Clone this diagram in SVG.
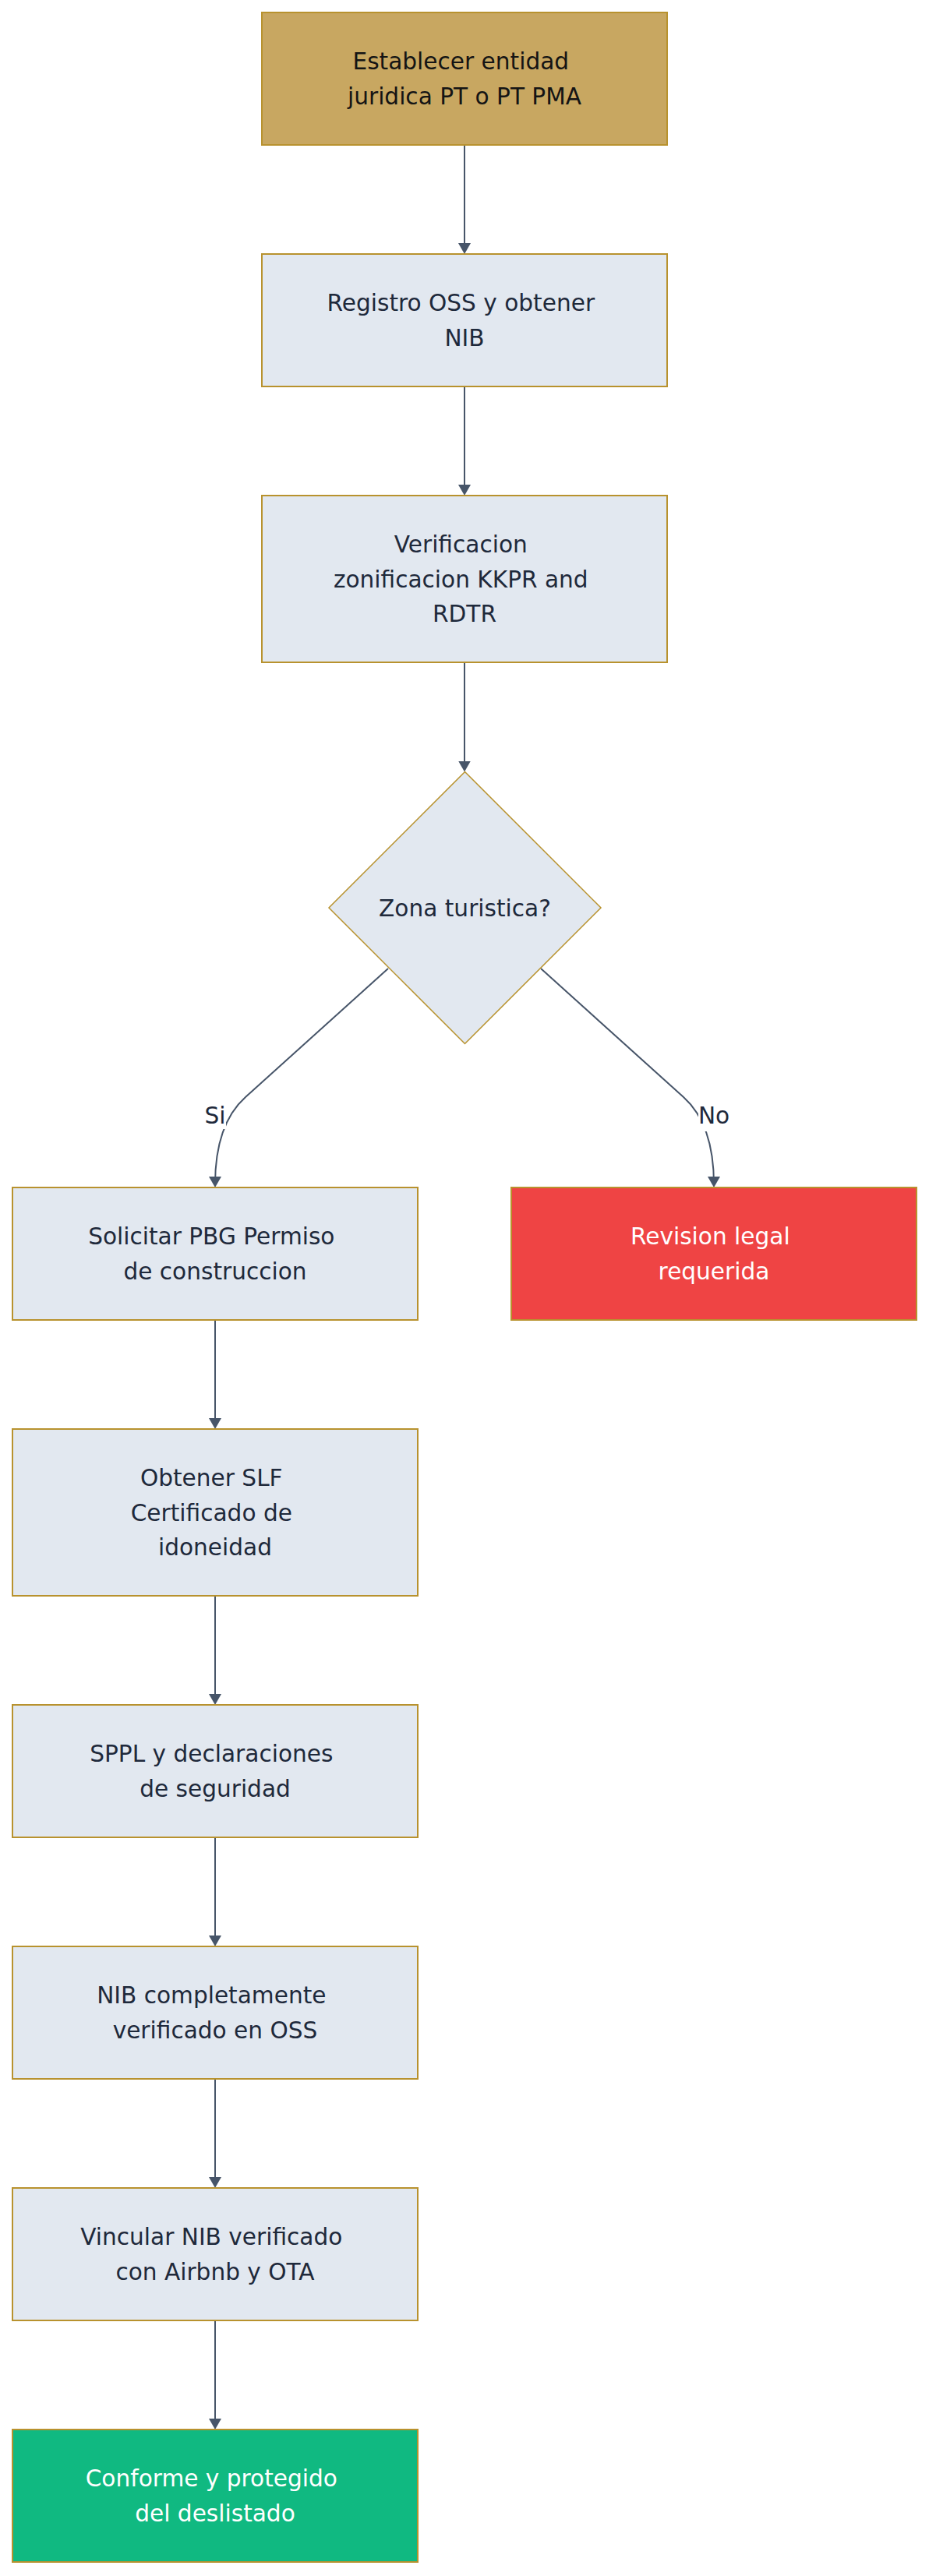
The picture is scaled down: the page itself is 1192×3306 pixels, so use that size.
<svg xmlns="http://www.w3.org/2000/svg" width="1192" height="3306" viewBox="0 0 1192 3306">
<style>
  text { font-family: "DejaVu Sans", "Liberation Sans", sans-serif; font-size: 29.6px; text-anchor: middle; fill: #1E293B; }
  .box { fill: #E2E8F0; stroke: #B8922E; stroke-width: 2; }
  .start { fill: #C8A761; stroke: #B8922E; stroke-width: 2; }
  .start-t { fill: #141414; }
  .red { fill: #EF4444; stroke: #B8922E; stroke-width: 2; }
  .green { fill: #10B981; stroke: #B8922E; stroke-width: 2; }
  .light { fill: #FFFFFF; }
  .edge { fill: none; stroke: #475569; stroke-width: 2; }
  .lblbg { fill: #FFFFFF; }
</style>
<defs>
  <marker id="arrow" viewBox="0 0 14 16" markerUnits="userSpaceOnUse" markerWidth="14" markerHeight="16" refX="10" refY="8" orient="auto">
    <path d="M0,0 L14,8 L0,16 z" fill="#475569"/>
  </marker>
</defs>
<rect width="1192" height="3306" fill="#FFFFFF"/>

<g id="connectors">
  <path class="edge" d="M596,187 V322" marker-end="url(#arrow)"/>
  <path class="edge" d="M596,497 V632" marker-end="url(#arrow)"/>
  <path class="edge" d="M596,851 V986.5" marker-end="url(#arrow)"/>
  <path class="edge" d="M498,1243 L315,1408 Q276,1443 276,1520" marker-end="url(#arrow)"/>
  <path class="edge" d="M694,1243 L877,1408 Q916,1443 916,1520" marker-end="url(#arrow)"/>
  <path class="edge" d="M276,1695 V1830" marker-end="url(#arrow)"/>
  <path class="edge" d="M276,2049 V2184" marker-end="url(#arrow)"/>
  <path class="edge" d="M276,2359 V2494" marker-end="url(#arrow)"/>
  <path class="edge" d="M276,2669 V2804" marker-end="url(#arrow)"/>
  <path class="edge" d="M276,2979 V3114" marker-end="url(#arrow)"/>
  <g id="label-si">
    <rect class="lblbg" x="262" y="1413" width="28" height="36"/>
    <text x="276" y="1442">Si</text>
  </g>
  <g id="label-no">
    <rect class="lblbg" x="896" y="1413" width="40" height="39"/>
    <text x="916" y="1442">No</text>
  </g>
</g>

<g id="n1">
  <rect class="start" x="336" y="16" width="520" height="170"/>
  <text class="start-t" x="591.3" y="89">Establecer entidad</text>
  <text class="start-t" x="596" y="134">juridica PT o PT PMA</text>
</g>

<g id="n2">
  <rect class="box" x="336" y="326" width="520" height="170"/>
  <text x="591.3" y="399">Registro OSS y obtener</text>
  <text x="596" y="444">NIB</text>
</g>

<g id="n3">
  <rect class="box" x="336" y="636" width="520" height="214"/>
  <text x="591.3" y="709">Verificacion</text>
  <text x="591.3" y="753.5">zonificacion KKPR and</text>
  <text x="596" y="798">RDTR</text>
</g>

<g id="decision">
  <polygon class="box" style="stroke-width:1.5" points="596.5,990.5 771,1165 596.5,1339.5 422,1165"/>
  <text x="596.5" y="1175.5">Zona turistica?</text>
</g>

<g id="pbg">
  <rect class="box" x="16" y="1524" width="520" height="170"/>
  <text x="271.3" y="1597">Solicitar PBG Permiso</text>
  <text x="276" y="1642">de construccion</text>
</g>

<g id="revision">
  <rect class="red" x="656" y="1524" width="520" height="170"/>
  <text class="light" x="911.3" y="1597">Revision legal</text>
  <text class="light" x="916" y="1642">requerida</text>
</g>

<g id="slf">
  <rect class="box" x="16" y="1834" width="520" height="214"/>
  <text x="271.3" y="1907">Obtener SLF</text>
  <text x="271.3" y="1951.5">Certificado de</text>
  <text x="276" y="1996">idoneidad</text>
</g>

<g id="sppl">
  <rect class="box" x="16" y="2188" width="520" height="170"/>
  <text x="271.3" y="2261">SPPL y declaraciones</text>
  <text x="276" y="2306">de seguridad</text>
</g>

<g id="nib">
  <rect class="box" x="16" y="2498" width="520" height="170"/>
  <text x="271.3" y="2571">NIB completamente</text>
  <text x="276" y="2616">verificado en OSS</text>
</g>

<g id="vincular">
  <rect class="box" x="16" y="2808" width="520" height="170"/>
  <text x="271.3" y="2881">Vincular NIB verificado</text>
  <text x="276" y="2926">con Airbnb y OTA</text>
</g>

<g id="conforme">
  <rect class="green" x="16" y="3118" width="520" height="170"/>
  <text class="light" x="271.3" y="3191">Conforme y protegido</text>
  <text class="light" x="276" y="3236">del deslistado</text>
</g>
</svg>
